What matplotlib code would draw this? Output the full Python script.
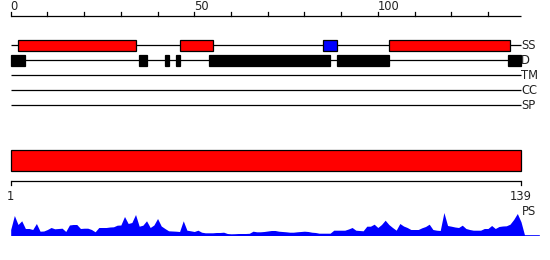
import matplotlib
matplotlib.use("Agg")
import matplotlib.pyplot as plt
from matplotlib.patches import Rectangle
import numpy as np

# ---------------- data ----------------
seq_len = 139
axis_ticks = list(range(0, 140, 10))
axis_labels = {0: "0", 50: "50", 100: "100"}

track_names = ["SS", "D", "TM", "CC", "SP"]

ss_starts = [2, 46, 85, 103]
ss_ends = [34, 55, 89, 136]
ss_colors = ["red", "red", "blue", "red"]

d_starts = [0, 35, 42, 45, 54, 89, 135.5]
d_ends = [4, 37, 43, 46, 87, 103, 139]

region_start = 1
region_end = 139
region_labels = ["1", "139"]

ps_values = [6, 20, 11, 14.7, 7, 7, 6, 12, 4.3, 4.5,
             6, 8, 6.7, 7, 7.3, 4, 10.5, 11, 11, 7,
             7.3, 7.3, 6, 3.7, 8, 8, 8, 8.5, 8.7, 10.3,
             10.5, 19, 12, 13, 21, 9.3, 10.3, 14.7, 8, 10.5,
             17, 9.5, 7, 4.7, 4.5, 4.3, 4, 14.7, 5.3, 4.7,
             4, 5.3, 3.3, 2.7, 2.7, 2.7, 3, 3, 3.3, 2,
             1.7, 1.8, 2, 2, 2, 2.2, 4.3, 3.7, 3.7, 4,
             4.5, 5, 5, 4.3, 4, 3.7, 3.3, 3.3, 3.7, 4,
             4.3, 4, 3.3, 3, 2.3, 2.3, 2.3, 2.3, 5.3, 5.3,
             5.3, 5.3, 6.5, 8, 5.3, 5, 4.7, 9.3, 9.3, 11.3,
             8, 11, 15.3, 11, 8, 5.3, 12, 9.5, 8, 6,
             6, 6, 7.7, 9, 11.3, 6, 5.3, 5, 23, 10,
             9.3, 8.5, 8, 10.3, 7, 6, 5.3, 5.3, 5.3, 7,
             7, 10, 7, 9, 9.5, 9.7, 11.3, 16, 22, 13.7,
             0]

# ---------------- layout ----------------
W, H = 550, 260
x0_px = 10.7
px_per_unit = (521.0 - 10.7) / seq_len
xl = (-x0_px / px_per_unit, (W - x0_px) / px_per_unit)

fig = plt.figure(figsize=(W / 100, H / 100), dpi=100)
ax = fig.add_axes([0, 0, 1, 1])
ax.set_xlim(*xl)
ax.set_ylim(H, 0)
ax.axis("off")

lw = 0.9
txt_color = "#222222"
fs = 8.3

# top ruler
ruler_y = 15.5
ax.plot([0, seq_len], [ruler_y, ruler_y], color="black", lw=lw, solid_capstyle="butt")
for t in axis_ticks:
    ax.plot([t, t], [ruler_y, ruler_y - 4], color="black", lw=lw)
    if t in axis_labels:
        ax.text(t, 10.3, axis_labels[t], ha="left", va="baseline",
                fontsize=fs, color=txt_color)

# tracks
row_y = {"SS": 45.3, "D": 60.3, "TM": 75.3, "CC": 90.3, "SP": 105.3}
box_h = 10.5
for name in track_names:
    y = row_y[name]
    ax.plot([0, seq_len], [y, y], color="black", lw=lw, solid_capstyle="butt", zorder=1)
    ax.text(seq_len + 0.1, y + 0.5, name, ha="left", va="center",
            fontsize=fs, color=txt_color)

for s, e, c in zip(ss_starts, ss_ends, ss_colors):
    ax.add_patch(Rectangle((s, row_y["SS"] - box_h / 2), e - s, box_h,
                           facecolor=c, edgecolor="black", lw=lw, zorder=2))
for s, e in zip(d_starts, d_ends):
    ax.add_patch(Rectangle((s, row_y["D"] - box_h / 2), e - s, box_h,
                           facecolor="black", edgecolor="black", lw=lw, zorder=2))

# big region bar
ax.add_patch(Rectangle((region_start - 1, 150), region_end - region_start + 1, 20.5,
                       facecolor="red", edgecolor="black", lw=lw, zorder=2))

# bottom ruler
by = 180.8
ax.plot([0, seq_len], [by, by], color="black", lw=lw, solid_capstyle="butt")
for t, lab in zip([region_start - 1, region_end], region_labels):
    ax.plot([t, t], [by, by + 4.5], color="black", lw=lw)
    ax.text(t, 200.3, lab, ha="center", va="baseline", fontsize=fs, color=txt_color)

ax.text(seq_len + 0.2, 215.3, "PS", ha="left", va="baseline", fontsize=fs, color=txt_color)

# PS profile
base_px = 235.5
ax2 = fig.add_axes([0, (H - base_px) / H, 1, 30 / H])
ax2.set_xlim(*xl)
ax2.set_ylim(0, 30)
ax2.axis("off")
xs = np.arange(len(ps_values))
ax2.fill_between(xs, 0, ps_values, color="blue", lw=0)
ax2.axhline(0, xmin=(xs[-1] - xl[0]) / (xl[1] - xl[0]),
            xmax=(538.5 / px_per_unit - x0_px / px_per_unit - xl[0]) / (xl[1] - xl[0]),
            color="blue", lw=1.2)

fig.savefig("out.png", dpi=100)
